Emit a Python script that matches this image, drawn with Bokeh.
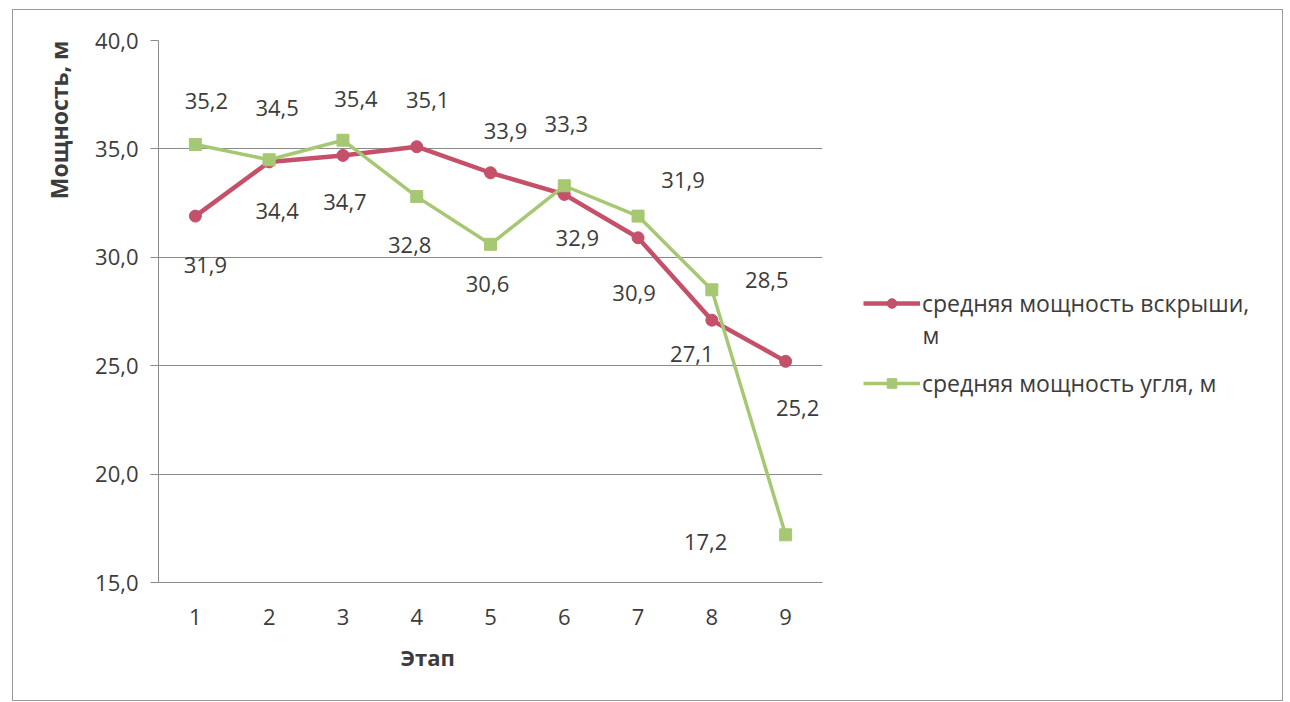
from bokeh.plotting import figure
from bokeh.layouts import row
from bokeh.models import (ColumnDataSource, Range1d, FixedTicker, Legend, LegendItem,
                          Label, Title)
from bokeh.core.properties import value
from bokeh.embed import file_html
from bokeh.resources import INLINE

# Data
stages = [1, 2, 3, 4, 5, 6, 7, 8, 9]
overburden = [31.9, 34.4, 34.7, 35.1, 33.9, 32.9, 30.9, 27.1, 25.2]
coal = [35.2, 34.5, 35.4, 32.8, 30.6, 33.3, 31.9, 28.5, 17.2]
y_ticks = [15, 20, 25, 30, 35, 40]
y_tick_labels = ["15,0", "20,0", "25,0", "30,0", "35,0", "40,0"]
series_names = ["средняя мощность вскрыши,", "средняя мощность угля, м"]
y_title = "Мощность, м"
x_title = "Этап"

# Data label offsets (pixels, y down)
over_dx = [10, 8, 2, 11, 15, 13, -4, -20, 12]
over_dy = [49, 49, 47, -47, -42, 44, 55, 34, 47]
coal_dx = [11, 8, 13, -7, -3, 2, 45, 55, -80]
coal_dy = [-44, -52, -41, 48, 40, -62, -36, -10, 7]

RED = "#c4506a"
GREEN = "#a6c872"
TXT = "#3c3c3c"
GRID = "#8a8a8a"
FONT = "Open Sans"
H = 690
W_MAIN = 830
W_LEG = 1269 - W_MAIN
TOP, BOTTOM = 30, 118
FRAME_H = H - TOP - BOTTOM


def fmt(v):
    return f"{v:.1f}".replace(".", ",")


# Main chart
p = figure(width=W_MAIN, height=H, output_backend="svg", toolbar_location=None,
           x_range=Range1d(0.5, 9.5), y_range=Range1d(15, 40),
           min_border_left=145, min_border_right=21,
           min_border_top=TOP, min_border_bottom=BOTTOM,
           background_fill_color="white", border_fill_color="white")
p.outline_line_color = None

p.xaxis.ticker = FixedTicker(ticks=stages)
p.xaxis.major_tick_out = 0
p.xaxis.major_tick_in = 0
p.xaxis.minor_tick_line_color = None
p.xaxis.axis_line_color = GRID
p.xaxis.major_label_standoff = 26
p.xaxis.major_label_text_font = FONT
p.xaxis.major_label_text_font_size = "22px"
p.xaxis.major_label_text_color = TXT

p.yaxis.ticker = FixedTicker(ticks=y_ticks)
p.yaxis.major_label_overrides = dict(zip(y_ticks, y_tick_labels))
p.yaxis.major_tick_out = 8
p.yaxis.major_tick_in = 0
p.yaxis.major_tick_line_color = GRID
p.yaxis.minor_tick_line_color = None
p.yaxis.axis_line_color = GRID
p.yaxis.major_label_standoff = 12
p.yaxis.major_label_text_font = FONT
p.yaxis.major_label_text_font_size = "22px"
p.yaxis.major_label_text_color = TXT

p.xgrid.grid_line_color = None
p.ygrid.grid_line_color = GRID
p.ygrid.grid_line_width = 1

src_o = ColumnDataSource(dict(x=stages, y=overburden, t=[fmt(v) for v in overburden],
                              dx=over_dx, dy=over_dy))
src_c = ColumnDataSource(dict(x=stages, y=coal, t=[fmt(v) for v in coal],
                              dx=coal_dx, dy=coal_dy))

line_o = dict(line_color=RED, line_width=4.5)
mark_o = dict(marker="circle", size=12, fill_color=RED, line_color=RED)
line_c = dict(line_color=GREEN, line_width=3.5)
mark_c = dict(marker="square", size=12, fill_color=GREEN, line_color=GREEN)

p.line("x", "y", source=src_o, **line_o)
p.scatter("x", "y", source=src_o, **mark_o)
p.line("x", "y", source=src_c, **line_c)
p.scatter("x", "y", source=src_c, **mark_c)

for src in (src_o, src_c):
    p.text("x", "y", text="t", source=src, x_offset="dx", y_offset="dy",
           text_font=value(FONT), text_font_size="22px", text_color=TXT,
           text_align="center", text_baseline="middle")

# Axis titles
p.add_layout(Title(text=y_title, align="right", offset=0, standoff=36,
                   text_font=FONT, text_font_size="23px", text_font_style="bold",
                   text_color=TXT), "left")
p.add_layout(Title(text=x_title, align="left", offset=242, standoff=24,
                   text_font=FONT, text_font_size="22px", text_font_style="bold",
                   text_color=TXT), "below")

# Legend panel: its ranges keep the series themselves out of view,
# only their legend glyphs are shown
pl = figure(width=W_LEG, height=H, output_backend="svg", toolbar_location=None,
            x_range=Range1d(100, 100 + W_LEG), y_range=Range1d(0, FRAME_H),
            min_border_left=0, min_border_right=0,
            min_border_top=TOP, min_border_bottom=BOTTOM,
            background_fill_color="white", border_fill_color="white")
pl.axis.visible = False
pl.grid.visible = False
pl.outline_line_color = None
l1 = pl.line("x", "y", source=src_o, **line_o)
m1 = pl.scatter("x", "y", source=src_o, **mark_o)
l2 = pl.line("x", "y", source=src_c, **line_c)
m2 = pl.scatter("x", "y", source=src_c, **mark_c)
legend = Legend(items=[LegendItem(label=series_names[0], renderers=[l1, m1]),
                       LegendItem(label=series_names[1], renderers=[l2, m2])],
                location=(20, 183), orientation="vertical",
                margin=0, padding=0, spacing=48,
                glyph_width=57, glyph_height=24, label_height=24,
                label_standoff=2, border_line_color=None,
                background_fill_alpha=0,
                label_text_font=FONT, label_text_font_size="23px",
                label_text_color=TXT)
pl.add_layout(legend, "center")
pl.add_layout(Label(x=179, y=248, text="м",
                    text_font=FONT, text_font_size="23px", text_color=TXT,
                    text_align="left", text_baseline="middle"))

layout = row(p, pl, styles={"margin-left": "12px", "margin-top": "9px",
                            "border": "1px solid #9a9a9a", "background": "white"})

open("out.html", "w").write(file_html(layout, INLINE))
